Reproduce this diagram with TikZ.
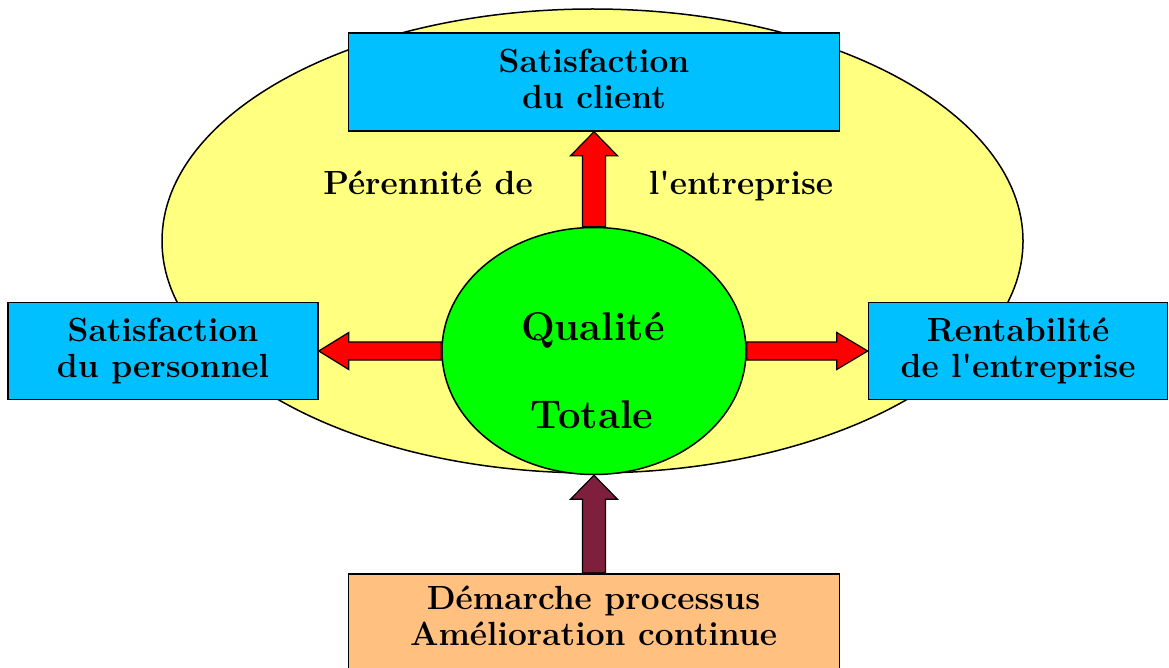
\documentclass[tikz,border=0pt]{standalone}
\usepackage{fontspec}
\usetikzlibrary{shapes.geometric,calc}

\definecolor{jaune}{HTML}{FFFF80}
\definecolor{vert}{HTML}{00FF00}
\definecolor{bleu}{HTML}{00C0FF}
\definecolor{rouge}{HTML}{FF0000}
\definecolor{bordeaux}{HTML}{7E1F3D}
\definecolor{peche}{HTML}{FFC080}

\tikzset{
  boite/.style={draw=black,line width=1.5pt,fill=bleu,align=center,inner sep=0pt,
    font=\fontsize{33.5}{36}\selectfont\bfseries},
  texte/.style={font=\fontsize{33.5}{36}\selectfont\bfseries,inner sep=0pt},
  grand/.style={font=\fontsize{40}{44}\selectfont\bfseries,inner sep=0pt,anchor=base},
}

% fleche pleine : couleur, depart, pointe, demi-corps, demi-tete, longueur tete
\newcommand{\fleche}[6]{%
  \coordinate (pied) at ($(#3)!#6!(#2)$);
  \draw[fill=#1,line width=1.2pt,line join=miter]
    ($(#2)!#4!90:(#3)$) -- ($(pied)!#4!90:(#3)$) -- ($(pied)!#5!90:(#3)$) -- (#3)
    -- ($(pied)!#5!-90:(#3)$) -- ($(pied)!#4!-90:(#3)$) -- ($(#2)!#4!-90:(#3)$) -- cycle;
}

\begin{document}
\begin{tikzpicture}[x=1pt,y=-1pt]
  \useasboundingbox (0,0) rectangle (1169,668);
  \clip (0,0) rectangle (1169,668);

  \draw[fill=jaune,line width=1.5pt] (592.5,241) ellipse [x radius=430.5pt, y radius=232pt];
  \node[texte,anchor=base] (perennite) at (428,195) {Pérennité de};
  \node[texte,anchor=base] (entreprise) at (741,195) {l\textquotesingle entreprise};

  \node[boite,minimum width=491pt,minimum height=98pt] (client) at (594,82) {Satisfaction\\du client\vphantom{p}};
  \node[boite,minimum width=310pt,minimum height=97pt] (personnel) at (163,351) {Satisfaction\\du personnel};
  \node[boite,minimum width=299pt,minimum height=97pt] (rentabilite) at (1018,351) {Rentabilité\\de l\textquotesingle entreprise};
  \node[draw=black,line width=1.5pt,fill=peche,minimum width=491pt,minimum height=120pt,anchor=north] (demarche) at (594,573) {};
  \node[texte,align=center] (demtxt) at (593.5,616) {Démarche processus\\Amélioration continue};

  \node[ellipse,draw=black,line width=1.5pt,fill=vert,minimum width=304pt,minimum height=247pt,inner sep=0pt] (qualite) at (594,351) {};
  \node[grand] (qualtxt) at (593,340) {Qualité};
  \node[grand] (totaltxt) at (592,428) {Totale};

  \fleche{rouge}{qualite.north}{client.south}{11.5pt}{23.5pt}{24pt}
  \fleche{rouge}{qualite.west}{personnel.east}{9pt}{18.5pt}{30pt}
  \fleche{rouge}{qualite.east}{rentabilite.west}{9pt}{18.5pt}{31pt}
  \fleche{bordeaux}{demarche.north}{qualite.south}{11.5pt}{23.5pt}{24pt}
\end{tikzpicture}
\end{document}
